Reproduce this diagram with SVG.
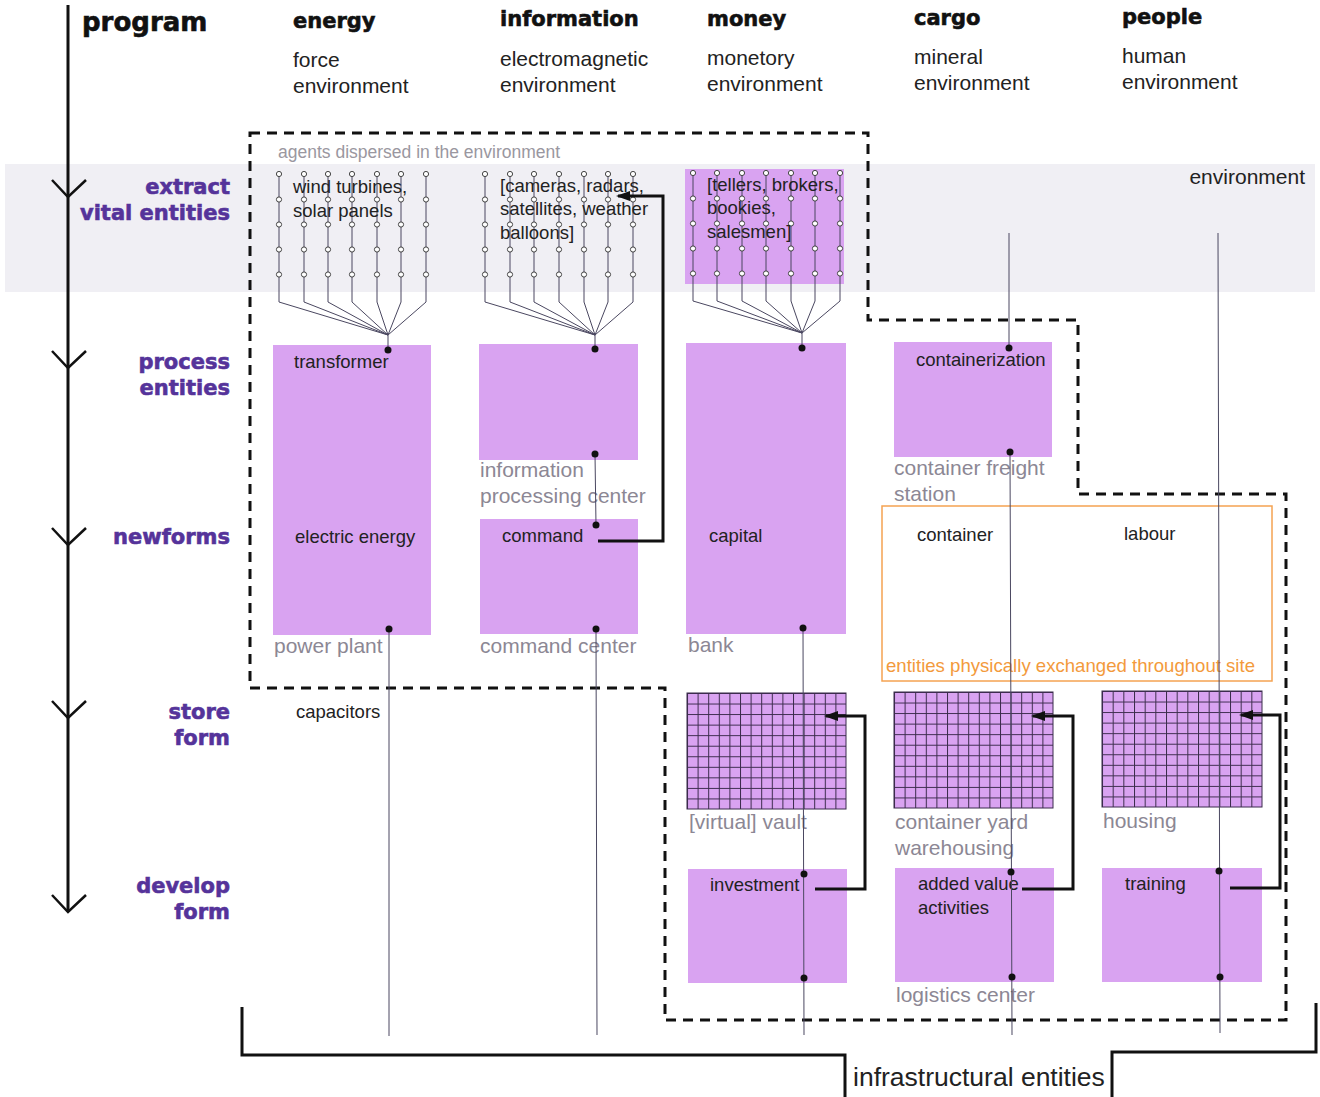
<svg xmlns="http://www.w3.org/2000/svg" xmlns:xlink="http://www.w3.org/1999/xlink" width="1320" height="1097" viewBox="0 0 1320 1097">
<style>
.hd{font-family:"DejaVu Sans",sans-serif;font-weight:bold;fill:#111;stroke:#111;stroke-width:0.6}
.step{font-family:"DejaVu Sans",sans-serif;font-weight:bold;fill:#55339a;stroke:#55339a;stroke-width:0.6;font-size:21px;text-anchor:end}
.t{font-family:"Liberation Sans",Arial,sans-serif;fill:#222}
.sub{font-size:21px}
.lbl{font-size:18.5px}
.gray{font-family:"Liberation Sans",Arial,sans-serif;fill:#8c8794;font-size:21px}
.box{fill:#d9a3f1}
.thin{stroke:#4a4760;stroke-width:1;fill:none}
.dot{fill:#111}
.thick{stroke:#111;stroke-width:3;fill:none}
.dash{stroke:#111;stroke-width:3;fill:none;stroke-dasharray:10 7}
.pinc{fill:#fff;stroke:#444;stroke-width:1}
</style>
<defs>
<marker id="ah" viewBox="0 0 14 10" refX="12" refY="5" markerWidth="14" markerHeight="10" markerUnits="userSpaceOnUse" orient="auto">
<path d="M0 0 L14 5 L0 10 Z" fill="#111"/>
</marker>
<pattern id="grid" patternUnits="objectBoundingBox" width="0.0666667" height="0.0909091" patternContentUnits="userSpaceOnUse">
<rect width="10.6" height="10.55" fill="#d9a3f1"/>
<path d="M0 0.5 H10.6 M0.5 0 V10.55" stroke="#3b2b4c" stroke-width="1"/>
</pattern>
<g id="pin">
<line x1="0" y1="0" x2="0" y2="128" class="thin"/>
<circle cx="0" cy="0" r="2.6" class="pinc"/>
<circle cx="0" cy="25.5" r="2.6" class="pinc"/>
<circle cx="0" cy="50.5" r="2.6" class="pinc"/>
<circle cx="0" cy="75.5" r="2.6" class="pinc"/>
<circle cx="0" cy="100.5" r="2.6" class="pinc"/>
</g>
</defs>
<rect width="1320" height="1097" fill="#fff"/>
<rect id="band" x="5" y="164" width="1310" height="128" fill="#f0eff4"/>

<g id="axis">
<line x1="68" y1="5" x2="68" y2="912" stroke="#111" stroke-width="3"/>
<path d="M52 180 L68 197 L86 180 M52 351 L68 368 L86 351 M52 528 L68 545 L86 528 M52 701 L68 718 L86 701 M52 895 L68 912 L86 895" stroke="#111" stroke-width="2.5" fill="none"/>
</g>

<g id="headers">
<text class="hd" x="82" y="31" font-size="26">program</text>
<text class="hd" x="293" y="28" font-size="21">energy</text>
<text class="hd" x="500" y="26" font-size="21">information</text>
<text class="hd" x="707" y="26" font-size="21">money</text>
<text class="hd" x="914" y="25" font-size="21">cargo</text>
<text class="hd" x="1122" y="24" font-size="21">people</text>
<text class="t sub" x="293" y="67">force</text>
<text class="t sub" x="293" y="93">environment</text>
<text class="t sub" x="500" y="66">electromagnetic</text>
<text class="t sub" x="500" y="92">environment</text>
<text class="t sub" x="707" y="65">monetory</text>
<text class="t sub" x="707" y="91">environment</text>
<text class="t sub" x="914" y="64">mineral</text>
<text class="t sub" x="914" y="90">environment</text>
<text class="t sub" x="1122" y="63">human</text>
<text class="t sub" x="1122" y="89">environment</text>
<text class="t sub" x="1305" y="184" text-anchor="end">environment</text>
</g>

<g id="steps">
<text class="step" x="230" y="194">extract</text>
<text class="step" x="230" y="220">vital entities</text>
<text class="step" x="230" y="369">process</text>
<text class="step" x="230" y="395">entities</text>
<text class="step" x="230" y="544">newforms</text>
<text class="step" x="230" y="719">store</text>
<text class="step" x="230" y="745">form</text>
<text class="step" x="230" y="893">develop</text>
<text class="step" x="230" y="919">form</text>
</g>

<g id="boundary">
<path class="dash" d="M250 133 H868 V320 H1078 V494 H1286 V1020 H665 V688 H250 Z"/>
<text x="278" y="158" font-family="Liberation Sans, Arial, sans-serif" font-size="17.5" fill="#9a97a0">agents dispersed in the environment</text>
</g>

<g id="site">
<rect x="882" y="506" width="390" height="175" fill="none" stroke="#f5a352" stroke-width="1.5"/>
<text class="t" x="917" y="541" font-size="18.5">container</text>
<text class="t" x="1124" y="540" font-size="18.5">labour</text>
<text x="886" y="672" font-family="Liberation Sans, Arial, sans-serif" font-size="18.6" fill="#f39a3c">entities physically exchanged throughout site</text>
</g>

<g id="agents-money-bg"><rect class="box" x="685" y="169" width="159" height="115"/></g>

<g id="power-plant">
<rect class="box" x="273" y="345" width="158" height="290"/>
<text class="t lbl" x="294" y="368">transformer</text>
<text class="t lbl" x="295" y="543">electric energy</text>
<text class="gray" x="274" y="653">power plant</text>
</g>
<g id="info-processing">
<rect class="box" x="479" y="344" width="159" height="116"/>
<text class="gray" x="480" y="477">information</text>
<text class="gray" x="480" y="503">processing center</text>
</g>
<g id="command-center">
<rect class="box" x="480" y="519" width="158" height="115"/>
<text class="t lbl" x="502" y="542">command</text>
<text class="gray" x="480" y="653">command center</text>
</g>
<g id="bank">
<rect class="box" x="686" y="343" width="160" height="291"/>
<text class="t lbl" x="709" y="542">capital</text>
<text class="gray" x="688" y="652">bank</text>
</g>
<g id="freight-station">
<rect class="box" x="894" y="342" width="158" height="115"/>
<text class="t lbl" x="916" y="366">containerization</text>
<text class="gray" x="894" y="475">container freight</text>
<text class="gray" x="894" y="501">station</text>
</g>
<g id="capacitors"><text class="t lbl" x="296" y="718">capacitors</text></g>

<g id="vault">
<rect x="687" y="693" width="159" height="116" fill="url(#grid)" stroke="#3b2b4c" stroke-width="1"/>
<text class="gray" x="689" y="829">[virtual] vault</text>
</g>
<g id="yard">
<rect x="894" y="692" width="159" height="116" fill="url(#grid)" stroke="#3b2b4c" stroke-width="1"/>
<text class="gray" x="895" y="829">container yard</text>
<text class="gray" x="895" y="855">warehousing</text>
</g>
<g id="housing">
<rect x="1102" y="691" width="160" height="116" fill="url(#grid)" stroke="#3b2b4c" stroke-width="1"/>
<text class="gray" x="1103" y="828">housing</text>
</g>

<g id="investment">
<rect class="box" x="688" y="869" width="159" height="114"/>
<text class="t lbl" x="710" y="891">investment</text>
</g>
<g id="logistics-center">
<rect class="box" x="895" y="868" width="159" height="114"/>
<text class="t lbl" x="918" y="890">added value</text>
<text class="t lbl" x="918" y="914">activities</text>
<text class="gray" x="896" y="1002">logistics center</text>
</g>
<g id="training">
<rect class="box" x="1102" y="868" width="160" height="114"/>
<text class="t lbl" x="1125" y="890">training</text>
</g>

<g id="agents">
<use href="#pin" x="279" y="174"/><use href="#pin" x="304" y="174"/><use href="#pin" x="328" y="174"/><use href="#pin" x="352" y="174"/><use href="#pin" x="377" y="174"/><use href="#pin" x="401" y="174"/><use href="#pin" x="426" y="174"/>
<use href="#pin" x="485" y="174"/><use href="#pin" x="510" y="174"/><use href="#pin" x="534" y="174"/><use href="#pin" x="559" y="174"/><use href="#pin" x="584" y="174"/><use href="#pin" x="608" y="174"/><use href="#pin" x="633" y="174"/>
<use href="#pin" x="693" y="173"/><use href="#pin" x="717" y="173"/><use href="#pin" x="742" y="173"/><use href="#pin" x="766" y="173"/><use href="#pin" x="791" y="173"/><use href="#pin" x="815" y="173"/><use href="#pin" x="840" y="173"/>
<text class="t lbl" x="293" y="193">wind turbines,</text>
<text class="t lbl" x="293" y="217">solar panels</text>
<text class="t lbl" x="500" y="192">[cameras, radars,</text>
<text class="t lbl" x="500" y="215">satellites, weather</text>
<text class="t lbl" x="500" y="239">balloons]</text>
<text class="t lbl" x="707" y="191">[tellers, brokers,</text>
<text class="t lbl" x="707" y="214">bookies,</text>
<text class="t lbl" x="707" y="238">salesmen]</text>
</g>

<g id="connectors">
<path class="thin" d="M279 302 L388 335 M304 302 L388 335 M328 302 L388 335 M352 302 L388 335 M377 302 L388 335 M401 302 L388 335 M426 302 L388 335 M388 335 V350"/>
<path class="thin" d="M485 302 L595 335 M510 302 L595 335 M534 302 L595 335 M559 302 L595 335 M584 302 L595 335 M608 302 L595 335 M633 302 L595 335 M595 335 V349"/>
<path class="thin" d="M693 301 L802 333 M717 301 L802 333 M742 301 L802 333 M766 301 L802 333 M791 301 L802 333 M815 301 L802 333 M840 301 L802 333 M802 333 V348"/>
<line class="thin" x1="389" y1="629" x2="389" y2="1036"/>
<line class="thin" x1="595" y1="454" x2="596" y2="525"/>
<line class="thin" x1="596" y1="629" x2="597" y2="1035"/>
<line class="thin" x1="803" y1="628" x2="804" y2="1035"/>
<line class="thin" x1="1009" y1="233" x2="1009" y2="348"/>
<line class="thin" x1="1010" y1="452" x2="1012" y2="1035"/>
<line class="thin" x1="1218" y1="233" x2="1220" y2="1033"/>
<g class="dot">
<circle cx="388" cy="350" r="3.5"/><circle cx="389" cy="629" r="3.5"/>
<circle cx="595" cy="349" r="3.5"/><circle cx="595" cy="454" r="3.5"/><circle cx="596" cy="525" r="3.5"/><circle cx="596" cy="629" r="3.5"/>
<circle cx="802" cy="348" r="3.5"/><circle cx="803" cy="628" r="3.5"/><circle cx="804" cy="874" r="3.5"/><circle cx="804" cy="978" r="3.5"/>
<circle cx="1009" cy="348" r="3.5"/><circle cx="1010" cy="452" r="3.5"/><circle cx="1011" cy="872" r="3.5"/><circle cx="1012" cy="977" r="3.5"/>
<circle cx="1219" cy="871" r="3.5"/><circle cx="1220" cy="977" r="3.5"/>
</g>
<path class="thick" d="M598 541 H663 V196 H618" marker-end="url(#ah)"/>
<path class="thick" d="M815 889 H865 V716 H826" marker-end="url(#ah)"/>
<path class="thick" d="M1022 889 H1073 V716 H1033" marker-end="url(#ah)"/>
<path class="thick" d="M1230 888 H1280 V715 H1241" marker-end="url(#ah)"/>
</g>

<g id="infrastructure">
<path d="M242 1007 V1055 H845 V1097 M1112 1097 V1052 H1316 V1003" stroke="#111" stroke-width="3" fill="none"/>
<text class="t" x="853" y="1086" font-size="26.5">infrastructural entities</text>
</g>
</svg>
